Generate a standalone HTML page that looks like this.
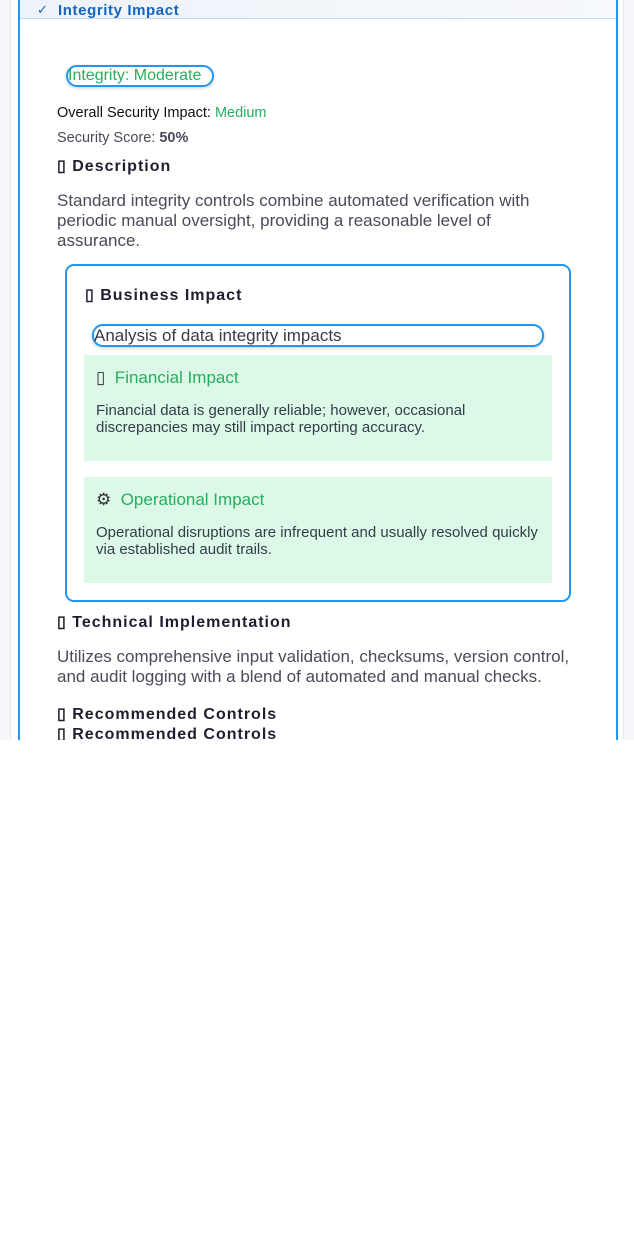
<!DOCTYPE html>
<html><head><style>
*{margin:0;padding:0;box-sizing:border-box}
body{width:634px;height:1245px;background:#fff;font-family:"Liberation Sans",sans-serif;position:relative;overflow:hidden}
.a{position:absolute;white-space:nowrap}
.h{font-weight:bold;color:#1e1e2e;font-size:16px;letter-spacing:1px}
.g{color:#27ae60}
.t{color:#4a4a5a}
.box{position:absolute;font-size:15px;color:#333d4a;line-height:17px}
</style></head><body>
<div style="position:absolute;left:0;top:0;width:634px;height:740px;background:#f5f7fa;overflow:hidden">
 <div style="position:absolute;left:10px;top:0;width:614px;height:740px;background:#fff;border-left:1px solid #e5e8ee;border-right:1px solid #e5e8ee"></div>
 <div style="position:absolute;left:18px;top:-10px;width:600px;height:800px;border:2px solid #2196f3;border-radius:10px;background:#fff"></div>
 <div style="position:absolute;left:20px;top:0;width:596px;height:19px;background:linear-gradient(90deg,#eef3fa,#f7f9fc);border-bottom:1px solid #c9d8ec"></div>
 <div class="a" style="left:37px;top:2px;font-size:13px;color:#1565c0">✓</div>
 <div class="a" style="left:58px;top:2px;font-size:15px;font-weight:bold;color:#1565c0;letter-spacing:0.6px">Integrity Impact</div>
 <div class="a g" style="left:66px;top:65px;width:148px;height:22px;border:2px solid #2196f3;border-radius:11px;font-size:16px;line-height:18px;box-shadow:0 1px 3px rgba(0,0,0,.2)">Integrity: Moderate</div>
 <div class="a" style="left:57px;top:105px;font-size:14.5px;color:#111">Overall Security Impact: <span class="g">Medium</span></div>
 <div class="a t" style="left:57px;top:130px;font-size:14.5px">Security Score: <b>50%</b></div>
 <div class="a h" style="left:57px;top:156px">▯ Description</div>
 <div class="a t" style="left:57px;top:191px;font-size:17px;line-height:20px;white-space:normal;width:500px">Standard integrity controls combine automated verification with periodic manual oversight, providing a reasonable level of assurance.</div>
 <div style="position:absolute;left:65px;top:264px;width:506px;height:338px;border:2px solid #2196f3;border-radius:9px"></div>
 <div class="a h" style="left:85px;top:285px">▯ Business Impact</div>
 <div class="a t" style="left:92px;top:324px;width:452px;height:23px;border:2px solid #2196f3;border-radius:11px;font-size:17px;line-height:19px;color:#3a3a4a;box-shadow:0 1px 3px rgba(0,0,0,.2)">Analysis of data integrity impacts</div>
 <div style="position:absolute;left:84px;top:355px;width:468px;height:106px;background:#dcf8e7"></div>
 <div class="a g" style="left:96px;top:368px;font-size:17px"><span style="color:#333">▯</span>&nbsp; Financial Impact</div>
 <div class="box" style="left:96px;top:402px;width:400px">Financial data is generally reliable; however, occasional discrepancies may still impact reporting accuracy.</div>
 <div style="position:absolute;left:84px;top:477px;width:468px;height:106px;background:#dcf8e7"></div>
 <div class="a g" style="left:96px;top:490px;font-size:17px"><span style="color:#333">⚙</span>&nbsp; Operational Impact</div>
 <div class="box" style="left:96px;top:524px;width:450px">Operational disruptions are infrequent and usually resolved quickly via established audit trails.</div>
 <div class="a h" style="left:57px;top:612px">▯ Technical Implementation</div>
 <div class="a t" style="left:57px;top:647px;font-size:17px;line-height:20px">Utilizes comprehensive input validation, checksums, version control,<br>and audit logging with a blend of automated and manual checks.</div>
 <div class="a h" style="left:57px;top:704px">▯ Recommended Controls</div>
 <div class="a h" style="left:57px;top:724px">▯ Recommended Controls</div>
</div>
</body></html>
